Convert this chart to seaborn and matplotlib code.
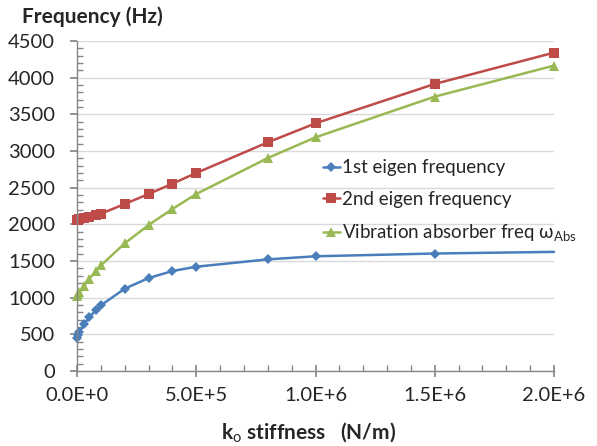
import numpy as np
import pandas as pd
import matplotlib
matplotlib.use("Agg")
import matplotlib.pyplot as plt
from matplotlib.ticker import MultipleLocator, FuncFormatter
import seaborn as sns

# ── data ─────────────────────────────────────────────────────────────────────
stiffness = [0, 5e3, 1e4, 3e4, 5e4, 8e4, 1e5, 2e5, 3e5, 4e5, 5e5, 8e5, 1e6, 1.5e6, 2e6]
f1_eigen = [455, 495, 530, 636, 732, 832, 896, 1123, 1268, 1364, 1423, 1523, 1565, 1603, 1625]
f2_eigen = [2058, 2063, 2068, 2085, 2100, 2125, 2145, 2278, 2414, 2555, 2701, 3119, 3378, 3915, 4342]
f_absorber = [1030, 1050, 1075, 1160, 1255, 1364, 1441, 1741, 1991, 2210, 2414, 2905, 3187, 3742, 4165]

labels = ["1st eigen frequency", "2nd eigen frequency",
          r"Vibration absorber freq ω$_{\mathrm{Abs}}$"]
colors = ["#4A7EBB", "#BE4B48", "#98B954"]
markers = ["D", "s", "^"]
msizes = [5, 6.5, 7]

sns.set_theme(style="white")
plt.rcParams["font.family"] = ["Lato", "DejaVu Sans"]
plt.rcParams["mathtext.fontset"] = "custom"
plt.rcParams["mathtext.rm"] = "Lato"

fig = plt.figure(figsize=(5.97, 4.46), dpi=100)
ax = fig.add_axes([0.129, 0.168, 0.799, 0.74])

for ys, lab, col, mk, ms in zip([f1_eigen, f2_eigen, f_absorber], labels, colors, markers, msizes):
    df = pd.DataFrame({"k": stiffness, "f": ys})
    every = list(range(len(stiffness) - 1)) if ys is f1_eigen else None
    sns.lineplot(data=df, x="k", y="f", ax=ax, color=col, lw=1.8, label=lab,
                 marker=mk, markersize=ms, markeredgewidth=0, markevery=every,
                 clip_on=False)

ax.set_xlim(0, 2e6)
ax.set_ylim(0, 4500)
ax.xaxis.set_major_locator(MultipleLocator(5e5))
ax.xaxis.set_minor_locator(MultipleLocator(1e5))
ax.yaxis.set_major_locator(MultipleLocator(500))
ax.yaxis.set_minor_locator(MultipleLocator(100))


def sci(v, pos):
    if v == 0:
        return "0.0E+0"
    e = int(np.floor(np.log10(abs(v))))
    return f"{v / 10**e:.1f}E+{e}"


ax.xaxis.set_major_formatter(FuncFormatter(sci))

ax.grid(axis="y", which="major", color="#D9D9D9", lw=1)
ax.set_axisbelow(True)
for s in ["top", "right"]:
    ax.spines[s].set_visible(False)
for s in ["left", "bottom"]:
    ax.spines[s].set_color("#868686")
    ax.spines[s].set_linewidth(1)

ax.tick_params(axis="y", which="major", direction="out", length=5, color="#868686",
               labelsize=14.5, pad=11, left=True)
ax.tick_params(axis="y", which="minor", direction="in", length=4, color="#868686", left=True)
ax.tick_params(axis="x", which="major", direction="inout", length=9, color="#868686",
               labelsize=14.5, pad=7, bottom=True)
ax.tick_params(axis="x", which="minor", direction="in", length=4, color="#868686", bottom=True)

ax.set_xlabel("")
ax.set_ylabel("")
fig.text(0.037, 0.963, "Frequency (Hz)", fontsize=15, fontweight="bold", va="center", ha="left")
fig.text(0.516, 0.03, r"k$_{\mathrm{o}}$ stiffness   (N/m)", fontsize=15, fontweight="bold",
         va="center", ha="center")

leg = ax.legend(loc="upper left", bbox_to_anchor=(0.5, 0.665), frameon=False,
                fontsize=13.5, handlelength=0.9, handletextpad=0.1, labelspacing=0.78,
                borderaxespad=0)

fig.savefig("out.png", dpi=100)
